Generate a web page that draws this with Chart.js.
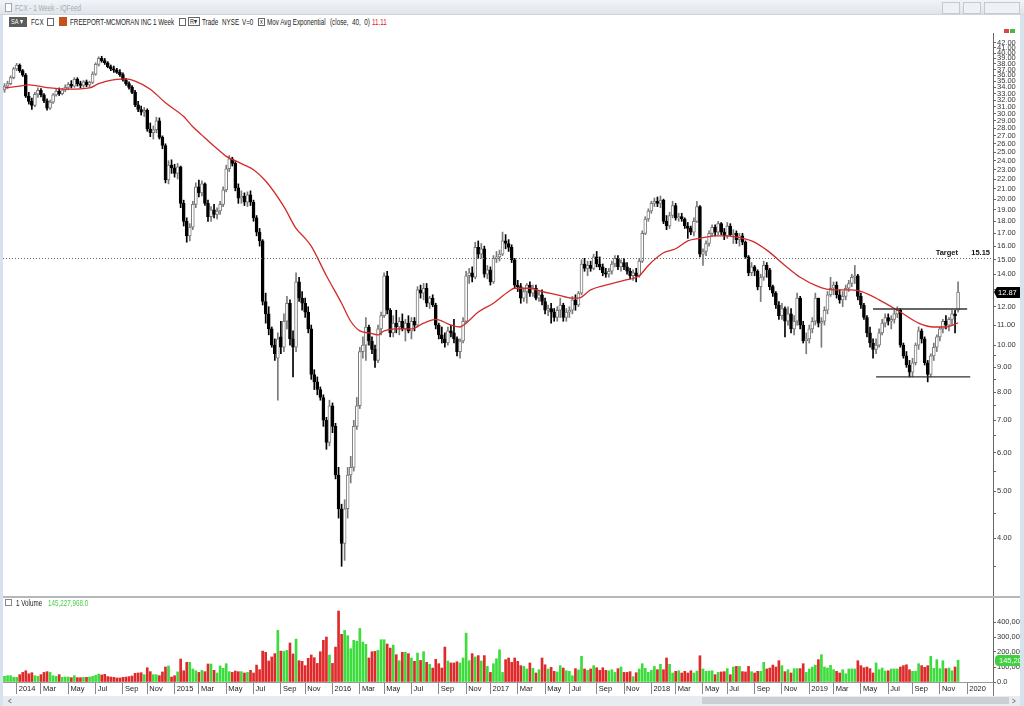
<!DOCTYPE html>
<html>
<head>
<meta charset="utf-8">
<script src="https://cdn.jsdelivr.net/npm/chart.js@4.4.0/dist/chart.umd.min.js"></script>
<style>
  html, body { margin: 0; padding: 0; background: #fff; }
  body { width: 1024px; height: 706px; position: relative; overflow: hidden; font-family: "Liberation Sans", Arial, sans-serif; }
  .abs { position: absolute; }
  .t { position: absolute; font-size: 8.5px; line-height: 10px; white-space: nowrap; color: #222; transform: scaleX(0.74); transform-origin: 0 0; }
  .box { position: absolute; border: 1px solid #666; background: #fff; box-sizing: border-box; }
  canvas { position: absolute; left: 0; }
</style>
</head>
<body>
<!-- window chrome -->
<div class="abs" style="left:0;top:0;width:1024px;height:14px;background:linear-gradient(#f1f4f8,#e0e5eb);border-bottom:1px solid #cdd5de"></div>
<div class="abs" style="left:5px;top:3px;width:5px;height:7px;border:1px solid #a0a8b0;background:#fff"></div>
<div class="t" style="left:15px;top:3px;color:#a3abb4">FCX - 1 Week - IQFeed</div>
<div class="abs" style="left:942px;top:2px;width:16px;height:10px;border:1px solid #c3cad2;background:#eef1f5"></div>
<div class="abs" style="left:963px;top:2px;width:16px;height:10px;border:1px solid #c3cad2;background:#eef1f5"></div>
<div class="abs" style="left:984px;top:2px;width:34px;height:10px;border:1px solid #c3cad2;background:#eef1f5"></div>
<div class="abs" style="left:0;top:15px;width:3px;height:691px;background:#d6e2ee"></div>
<div class="abs" style="left:1020px;top:15px;width:4px;height:691px;background:#d6e2ee"></div>

<!-- toolbar -->
<div class="abs" style="left:9px;top:17px;width:18px;height:10px;background:#5b5b5b"></div>
<div class="t" style="left:11px;top:17px;color:#fff;font-size:7.5px">SA ▾</div>
<div class="t" style="left:31px;top:17px">FCX</div>
<div class="box" style="left:47px;top:18px;width:7px;height:8px"></div>
<div class="abs" style="left:59px;top:17px;width:8px;height:9px;background:#c4521c"></div>
<div class="t" style="left:70px;top:17px">FREEPORT-MCMORAN INC</div>
<div class="t" style="left:153px;top:17px">1 Week</div>
<div class="box" style="left:179px;top:18px;width:7px;height:8px"></div>
<div class="box" style="left:188px;top:17px;width:12px;height:9px"></div>
<div class="t" style="left:190px;top:17px;font-size:7.5px">R▾</div>
<div class="t" style="left:202px;top:17px">Trade</div>
<div class="t" style="left:222px;top:17px">NYSE</div>
<div class="t" style="left:242px;top:17px">V=0</div>
<div class="box" style="left:258px;top:18px;width:7px;height:8px"></div>
<div class="t" style="left:259.5px;top:17px;font-size:7.5px">x</div>
<div class="t" style="left:267px;top:17px">Mov Avg Exponential</div>
<div class="t" style="left:330px;top:17px">(close,&nbsp; 40,&nbsp; 0)</div>
<div class="t" style="left:372px;top:17px;color:#d22">11.11</div>
<div class="abs" style="left:1004px;top:29px;width:5px;height:4px;background:#d44"></div>
<div class="abs" style="left:1010px;top:29px;width:5px;height:4px;background:#4b4"></div>

<canvas id="priceChart" width="1020" height="579" style="top:25px"></canvas>
<canvas id="volumeChart" width="1020" height="104" style="top:592px"></canvas>

<!-- panel separator and volume header -->
<div class="abs" style="left:3px;top:596px;width:1017px;height:2px;background:#b4b8bd"></div>
<div class="box" style="left:5px;top:599px;width:7px;height:7px;border-color:#888"></div>
<div class="t" style="left:16px;top:598px;font-size:8.5px">1 Volume</div>
<div class="t" style="left:48px;top:598px;font-size:8.5px;color:#49d049">145,227,968.0</div>
<div class="abs" style="left:993px;top:682px;width:1px;height:14px;background:#777"></div>

<!-- scrollbar -->
<div class="abs" style="left:3px;top:696px;width:1017px;height:10px;background:#e8ebef"></div>
<div class="abs" style="left:702px;top:697px;width:307px;height:7px;background:#cbcfd4"></div>
<div class="t" style="left:8px;top:696px;color:#555">&lt;</div>
<div class="t" style="left:1012px;top:696px;color:#555">&gt;</div>

<script>
// weekly bars, first week starting Monday 2 Dec 2013
const MONTHS = ["Jan", "Feb", "Mar", "Apr", "May", "Jun", "Jul", "Aug", "Sep", "Oct", "Nov", "Dec"];
const WEEK_SLOTS = 326; // plotted weeks plus the empty space on the right

const open = [
  33.6,34.2,34.6,35.6,37.1,37.8,36.8,36.0,32.6,31.8, 31.2,32.9,33.5,32.8,31.9,30.8,31.7,32.8,33.4,33.0,
  33.6,34.0,34.5,34.2,35.3,34.6,34.3,34.9,34.4,34.8, 36.2,37.9,39.0,38.6,38.2,37.5,37.1,36.9,36.5,36.1,
  35.2,34.6,34.0,33.2,31.3,30.6,30.2,30.5,27.9,27.4, 27.8,29.0,26.8,25.8,21.9,23.5,23.2,22.6,23.3,19.6,
  18.0,16.8,17.5,19.5,21.2,20.6,21.5,19.6,18.4,19.0, 18.6,18.9,19.5,20.9,23.1,24.2,23.7,21.1,20.1,20.3,
  19.7,20.4,19.7,18.3,17.1,16.4,12.3,11.6,10.8,10.0, 9.4,10.4,9.9,11.2,12.2,10.3,9.9,13.5,12.5,12.2,
  11.7,10.8,8.7,8.4,8.1,7.8,7.0,6.3,7.5,6.8, 5.4,4.6,3.9,4.6,5.4,5.6,6.8,7.5,9.7,10.0,
  10.9,10.2,9.8,9.3,10.8,11.5,13.9,11.8,10.6,11.1, 10.9,11.2,10.8,11.1,10.7,11.2,11.0,13.0,12.8,13.1,
  12.2,12.5,12.1,11.0,10.5,10.3,10.1,10.7,10.6,10.3, 9.7,10.2,11.2,13.9,14.1,13.8,15.9,15.4,15.8,14.0,
  14.3,13.5,15.1,15.2,15.4,16.4,16.2,15.9,15.0,13.3, 13.2,12.5,12.9,13.3,12.8,13.1,12.5,12.7,12.3,11.8,
  11.9,11.7,11.4,11.8,12.1,11.4,11.7,11.8,12.4,12.1, 12.8,14.7,14.4,14.6,14.4,15.2,14.7,14.5,14.1,14.0,
  14.2,14.7,15.1,14.5,14.8,14.5,14.2,13.9,14.1,13.9, 14.9,17.0,18.2,18.9,19.6,19.8,19.6,19.9,18.0,17.6,
  18.5,19.4,18.3,18.4,18.2,17.6,17.4,17.1,18.0,19.3, 15.4,15.6,16.2,17.0,17.5,17.1,17.8,17.1,16.8,17.6,
  16.9,17.0,16.5,16.8,16.3,15.2,14.1,14.5,14.2,13.2, 13.8,14.6,14.3,13.2,12.8,12.1,11.5,11.9,11.2,11.6,
  10.8,11.2,12.5,11.0,10.2,10.3,10.8,11.2,12.5,11.1, 11.2,11.8,12.7,13.1,13.3,12.7,12.4,12.6,13.1,13.4,
  13.8,13.9,12.6,12.1,11.4,10.6,10.1,9.8,10.0,10.6, 11.1,11.4,11.2,11.3,11.6,11.8,10.0,9.5,9.1,8.8,
  9.2,10.0,10.7,10.3,9.2,8.7,9.5,9.9,10.4,10.8, 11.2,11.0,11.3,11.6,11.8
];
const high = [
  34.6,35.0,35.9,37.4,38.1,38.0,37.0,36.3,33.2,32.3, 33.2,33.9,33.8,33.0,32.2,32.0,33.0,33.8,33.9,33.8,
  34.4,34.8,35.1,35.6,35.6,35.0,35.1,35.2,35.0,36.6, 38.2,39.3,39.4,39.0,38.4,37.8,37.6,37.2,37.0,36.4,
  35.5,34.9,34.3,33.5,31.8,31.1,30.9,30.7,28.7,28.3, 29.5,29.4,27.0,26.0,24.0,24.1,23.6,23.7,23.4,19.9,
  18.3,17.8,19.8,21.6,21.9,21.8,21.6,19.9,19.3,19.5, 19.2,19.8,21.2,23.5,24.6,24.4,23.9,21.5,20.8,20.6,
  20.7,20.8,19.9,18.5,17.4,16.5,12.8,12.0,10.9,10.3, 10.6,11.2,11.6,12.6,12.4,10.7,14.1,13.8,12.9,12.5,
  12.0,11.0,8.9,8.6,8.2,7.9,7.1,7.7,7.6,6.9, 5.6,4.7,4.8,5.6,5.9,7.0,7.8,9.9,10.4,11.4,
  11.0,10.4,10.0,11.0,11.7,14.1,14.2,11.9,11.5,11.8, 11.4,11.6,11.3,11.5,11.4,11.4,13.2,13.3,13.4,13.4,
  12.6,12.7,12.2,11.1,10.9,10.6,10.9,11.0,11.3,10.4, 10.3,11.4,14.2,14.4,14.5,16.3,16.4,16.2,16.0,14.6,
  14.5,15.3,15.6,15.7,17.1,16.9,16.5,16.1,15.1,13.6, 13.4,13.1,13.4,13.5,13.3,13.3,12.9,13.0,12.5,12.1,
  12.2,11.9,12.0,12.5,12.2,11.9,12.0,12.6,12.7,12.9, 15.0,15.1,14.9,14.9,15.4,15.6,15.2,14.7,14.4,14.4,
  14.9,15.3,15.3,15.0,15.1,14.8,14.4,14.3,14.4,15.1, 17.2,18.4,19.1,19.8,20.1,20.2,20.3,20.0,18.5,18.8,
  19.8,19.6,18.7,18.7,18.3,17.9,17.6,18.3,19.8,19.4, 15.8,16.4,17.2,17.7,17.7,18.0,17.9,17.4,17.9,17.8,
  17.3,17.2,17.0,17.0,16.4,15.3,14.8,14.6,14.3,14.0, 14.9,14.8,14.4,13.3,12.9,12.3,12.2,12.0,12.0,11.9,
  11.5,12.8,12.6,11.2,10.6,11.0,11.4,12.8,12.5,11.4, 12.0,12.9,13.8,13.5,13.5,13.0,12.9,13.3,13.6,14.0,
  14.6,14.0,12.8,12.2,11.5,10.9,10.3,10.3,10.8,11.3, 11.6,11.6,11.5,11.8,12.0,11.9,10.1,9.7,9.3,9.4,
  10.1,10.9,10.8,10.4,9.3,9.6,10.1,10.5,10.9,11.3, 11.5,11.4,11.8,11.8,13.5
];
const low = [
  33.2,33.8,34.4,35.4,36.8,36.5,35.8,32.4,31.4,30.6, 31.0,32.4,32.5,31.6,30.5,30.6,31.5,32.6,32.7,32.8,
  33.3,33.6,33.9,34.0,34.2,33.9,34.0,34.1,34.0,34.6, 36.0,37.6,38.3,37.9,37.3,36.8,36.5,36.3,35.8,35.0,
  34.3,33.7,33.0,31.0,30.3,29.8,29.6,27.6,26.9,26.6, 27.4,26.6,25.4,21.6,21.5,22.6,22.2,22.0,19.2,17.6,
  16.3,16.4,17.3,19.2,20.2,20.3,19.4,18.0,18.0,18.3, 18.2,18.6,19.3,20.7,22.8,23.4,20.8,19.6,19.6,19.4,
  19.3,19.4,18.0,16.8,16.0,12.1,11.1,10.5,9.9,9.3, 7.7,9.6,9.7,10.8,10.0,8.6,9.7,12.3,11.8,11.4,
  10.6,8.5,8.1,7.9,7.7,6.8,6.1,6.2,6.6,5.3, 4.4,3.5,3.6,4.4,5.2,5.5,6.7,7.4,9.4,9.3,
  10.0,9.6,9.0,9.2,10.5,11.4,11.6,10.4,10.4,10.6, 10.5,10.7,10.2,10.6,10.3,10.7,10.9,12.5,12.4,12.0,
  11.9,12.0,10.8,10.3,10.1,9.9,10.0,10.4,10.1,9.5, 9.4,10.1,11.1,13.4,13.5,13.7,15.1,15.1,13.8,13.7,
  13.3,13.4,14.8,14.9,15.3,15.8,15.6,14.8,13.1,12.9, 12.2,12.3,12.2,12.6,12.6,12.4,12.3,12.1,11.6,11.5,
  11.1,11.2,11.2,11.4,11.2,11.2,11.4,11.6,11.8,12.0, 12.7,14.2,13.9,14.2,14.3,14.5,14.3,13.9,13.8,13.8,
  14.0,14.5,14.3,14.2,14.3,14.0,13.7,13.6,13.5,13.8, 14.8,16.9,18.0,18.7,19.3,19.3,19.2,17.8,17.3,17.4,
  18.3,18.1,18.0,18.0,17.4,16.6,16.9,16.8,17.9,15.2, 14.6,15.3,16.0,16.8,16.8,16.9,16.9,16.5,16.6,16.8,
  16.2,16.2,16.0,16.1,15.1,13.9,13.9,13.9,13.0,12.3, 13.6,13.8,13.0,12.6,11.9,11.3,11.3,10.4,11.0,10.6,
  10.5,11.0,10.8,10.1,9.6,10.1,10.6,11.0,10.9,9.9, 11.0,11.6,12.6,12.7,12.5,12.2,12.0,12.4,12.9,13.2,
  13.4,12.4,11.9,11.3,10.4,9.9,9.4,9.6,9.9,10.5, 10.9,11.0,10.8,11.1,11.4,9.9,9.4,9.0,8.6,8.6,
  9.1,9.8,10.1,9.1,8.4,8.6,9.3,9.7,10.2,10.6, 10.8,10.7,11.0,10.6,11.7
];
const close = [
  34.2,34.6,35.6,37.1,37.8,36.8,36.0,32.6,31.8,31.2, 32.9,33.5,32.8,31.9,30.8,31.7,32.8,33.4,33.0,33.6,
  34.0,34.5,34.2,35.3,34.6,34.3,34.9,34.4,34.8,36.2, 37.9,39.0,38.6,38.2,37.5,37.1,36.9,36.5,36.1,35.2,
  34.6,34.0,33.2,31.3,30.6,30.2,30.5,27.9,27.4,27.8, 29.0,26.8,25.8,21.9,23.5,23.2,22.6,23.3,19.6,18.0,
  16.8,17.5,19.5,21.2,20.6,21.5,19.6,18.4,19.0,18.6, 18.9,19.5,20.9,23.1,24.2,23.7,21.1,20.1,20.3,19.7,
  20.4,19.7,18.3,17.1,16.4,12.3,11.6,10.8,10.0,9.6, 10.3,9.9,11.2,12.2,10.3,9.9,13.5,12.5,12.2,11.7,
  10.8,8.7,8.4,8.1,7.8,7.0,6.3,7.5,6.8,5.4, 4.6,3.9,4.6,5.4,5.6,6.8,7.5,9.7,10.0,10.9,
  10.2,9.8,9.3,10.8,11.5,13.9,11.8,10.6,11.1,10.9, 11.2,10.8,11.1,10.7,11.2,11.0,13.0,12.8,13.1,12.2,
  12.5,12.1,11.0,10.5,10.3,10.1,10.7,10.6,10.3,9.7, 10.2,11.2,13.9,14.1,13.8,15.9,15.4,15.8,14.0,14.3,
  13.5,15.1,15.2,15.4,16.4,16.2,15.9,15.0,13.3,13.2, 12.5,12.9,13.3,12.8,13.1,12.5,12.7,12.3,11.8,11.9,
  11.7,11.4,11.8,12.1,11.4,11.7,11.8,12.4,12.1,12.8, 14.7,14.4,14.6,14.4,15.2,14.7,14.5,14.1,14.0,14.2,
  14.7,15.1,14.5,14.8,14.5,14.2,13.9,14.1,13.9,14.9, 17.0,18.2,18.9,19.6,19.8,19.6,19.9,18.0,17.6,18.5,
  19.4,18.3,18.4,18.2,17.6,17.4,17.1,18.0,19.3,15.4, 15.6,16.2,17.0,17.5,17.1,17.8,17.1,16.8,17.6,16.9,
  17.0,16.5,16.8,16.3,15.2,14.1,14.5,14.2,13.2,13.8, 14.6,14.3,13.2,12.8,12.1,11.5,11.9,11.2,11.6,10.8,
  11.2,12.5,11.0,10.2,10.3,10.8,11.2,12.5,11.1,11.2, 11.8,12.7,13.1,13.3,12.7,12.4,12.6,13.1,13.4,13.8,
  13.9,12.6,12.1,11.4,10.6,10.1,9.8,10.0,10.6,11.1, 11.4,11.2,11.3,11.6,11.8,10.0,9.5,9.1,8.8,9.2,
  10.0,10.7,10.3,9.2,8.7,9.5,9.9,10.4,10.8,11.2, 11.0,11.3,11.6,11.5,12.87
];
// weekly volume, thousands of the axis unit
const volume = [
  38,42,42,31,31,49,64,75,55,62, 42,38,49,64,69,64,42,38,49,31,
  33,33,29,42,29,29,31,31,33,38, 44,53,47,51,36,33,31,27,27,31,
  33,36,40,58,60,62,49,95,69,49, 49,42,67,100,107,33,42,67,153,75,
  131,131,87,75,64,78,69,120,120,78, 60,107,91,122,69,64,73,69,69,60,
  64,78,60,113,82,206,198,140,167,189, 344,206,204,211,260,187,286,142,138,109,
  158,180,162,124,202,278,300,180,124,233, 473,318,344,309,222,278,271,357,266,251,
  160,202,204,211,282,282,253,226,246,182, 142,198,198,189,160,138,193,144,202,131,
  118,93,151,122,93,233,140,127,127,135, 127,160,326,142,189,167,176,140,176,104,
  64,122,155,215,64,149,160,131,160,138, 109,104,87,127,91,60,82,160,115,87,
  98,71,67,109,93,75,71,42,89,80, 171,87,78,87,109,95,78,95,78,75,
  82,64,89,100,64,64,69,36,62,87, 122,91,64,78,104,82,118,82,160,118,
  60,71,75,60,71,60,75,60,73,175, 87,71,73,75,49,64,67,69,89,49,
  100,104,104,69,67,104,69,60,71,71, 131,87,93,113,100,142,109,69,82,60,
  89,89,89,122,64,87,100,113,149,182, 100,93,111,82,71,60,82,55,87,87,
  87,142,109,95,100,89,60,127,82,93, 73,75,87,87,87,100,109,115,82,71,
  71,122,109,98,109,171,91,149,89,142, 89,93,75,100,145.2
];

// 40-week exponential average at these weeks
const emaWeek = [0,5,8,15,21,28,31,37,40,43,48,53,59,62,65,70,73,76,79,82,86,92,96,99,101,106,111,114,117,120,
  123,125,129,134,138,142,147,150,152,156,161,166,168,173,177,182,187,189,193,198,204,209,212,217,221,225,229,
  234,237,241,246,251,257,262,268,273,279,282,288,295,301,306,310,314];
const emaValue = [33.9,34.2,34.4,33.9,33.7,33.9,34.6,35.3,35.4,35.0,33.7,31.6,29.6,28.2,27.1,25.4,24.5,24.0,23.5,23.0,
  21.8,19.3,17.4,16.6,16.0,13.9,12.2,11.2,10.7,10.6,10.5,10.7,10.8,10.8,11.1,11.3,11.0,10.9,11.1,11.7,12.2,12.9,
  13.1,13.1,12.9,12.7,12.5,12.5,13.0,13.3,13.6,13.9,14.6,15.5,15.8,16.4,16.6,16.8,16.8,16.7,16.4,15.7,14.6,13.8,
  13.2,13.0,13.0,12.9,12.4,11.7,11.1,10.9,10.9,11.11];

// drawn horizontal levels (resistance, support)
const levelPrice = [11.87, 8.6];
const levelFrom = [286, 287];
const levelTo = [317, 318];
const TARGET_PRICE = 15.15;

const priceTicks = [4,5,6,7,8,9,10,11,12,13,14,15,16,17,18,19,20,21,22,23,24,25,26,27,28,29,30,31,32,33,34,35,36,37,38,39,40,41,42];
const priceMinorTicks = [3.5,4.5,5.5,6.5,7.5,8.5,9.5];
const volumeTicks = [0, 100, 200, 300, 400];

const FONT = '"Liberation Sans", Arial, sans-serif';
Chart.defaults.font.family = FONT;
Chart.defaults.color = "#333";

const weeks = [];
for (let k = 0; k < WEEK_SLOTS; k++) weeks.push(new Date(2013, 11, 2 + 7 * k));
const labels = weeks.map(d => d.getFullYear() + "-" + String(d.getMonth() + 1).padStart(2, "0") + "-" + String(d.getDate()).padStart(2, "0"));

// month label for the week holding the 1st of Jan/Mar/May/Jul/Sep/Nov
function axisLabel(i) {
    if (i > WEEK_SLOTS - 5) return null; // no room for a label at the right edge
    const d = weeks[i];
    for (let k = 0; k < 7; k++) {
        const t = new Date(d.getFullYear(), d.getMonth(), d.getDate() + k);
        if (t.getDate() === 1 && t.getMonth() % 2 === 0) {
            return " " + (t.getMonth() === 0 ? String(t.getFullYear()) : MONTHS[t.getMonth()]);
        }
    }
    return null;
}

const up = close.map((c, i) => c >= open[i]);
const wickData = low.map((l, i) => [l, high[i]]);
const bodyData = open.map((o, i) => [o, close[i]]);

const emaLine = new Array(WEEK_SLOTS).fill(null);
emaWeek.forEach((w, k) => { emaLine[w] = emaValue[k]; });

function levelLine(k) {
    const a = new Array(WEEK_SLOTS).fill(null);
    a[levelFrom[k]] = levelPrice[k];
    a[levelTo[k]] = levelPrice[k];
    return a;
}

// target line, target text and last price flag
const priceOverlay = {
    id: "priceOverlay",
    afterDraw(chart) {
        const { ctx, chartArea, scales: { y } } = chart;
        const ty = Math.round(y.getPixelForValue(TARGET_PRICE)) + 0.5;
        ctx.save();
        ctx.strokeStyle = "#666";
        ctx.lineWidth = 1;
        ctx.setLineDash([1, 2]);
        ctx.beginPath();
        ctx.moveTo(chartArea.left, ty);
        ctx.lineTo(chartArea.right, ty);
        ctx.stroke();
        ctx.setLineDash([]);
        ctx.fillStyle = "#111";
        ctx.font = "bold 7.5px " + FONT;
        ctx.textAlign = "right";
        ctx.textBaseline = "bottom";
        ctx.fillText("Target", chartArea.right - 35, ty - 2);
        ctx.fillText(TARGET_PRICE.toFixed(2), chartArea.right - 3, ty - 2);

        const last = close[close.length - 1];
        const ly = Math.round(y.getPixelForValue(last));
        ctx.fillStyle = "#000";
        ctx.beginPath();
        ctx.moveTo(chartArea.right + 1, ly);
        ctx.lineTo(chartArea.right + 4, ly - 5);
        ctx.lineTo(chartArea.right + 27, ly - 5);
        ctx.lineTo(chartArea.right + 27, ly + 6);
        ctx.lineTo(chartArea.right + 4, ly + 6);
        ctx.closePath();
        ctx.fill();
        ctx.fillStyle = "#fff";
        ctx.font = "7.5px " + FONT;
        ctx.textAlign = "left";
        ctx.textBaseline = "middle";
        ctx.fillText(last.toFixed(2), chartArea.right + 5, ly + 1);
        ctx.restore();
    }
};

const volumeOverlay = {
    id: "volumeOverlay",
    afterDraw(chart) {
        const { ctx, chartArea, scales: { y } } = chart;
        const v = volume[volume.length - 1];
        const vy = Math.round(y.getPixelForValue(v));
        ctx.save();
        ctx.fillStyle = "#3fcf3f";
        ctx.beginPath();
        ctx.roundRect(chartArea.right + 2, vy - 5, 27, 11, 4);
        ctx.fill();
        ctx.fillStyle = "#fff";
        ctx.font = "7.5px " + FONT;
        ctx.textBaseline = "middle";
        ctx.fillText((v * 1000).toLocaleString("en-US"), chartArea.right + 6, vy + 1);
        ctx.restore();
    }
};

new Chart(document.getElementById("priceChart"), {
    type: "bar",
    data: {
        labels: labels,
        datasets: [
            {
                label: "wick", data: wickData, order: 4, grouped: false, barThickness: 1,
                backgroundColor: up.map(u => u ? "#7a7a7a" : "#000")
            },
            {
                label: "body", data: bodyData, order: 3, grouped: false, barThickness: 3, minBarLength: 1,
                backgroundColor: up.map(u => u ? "#fff" : "#000"),
                borderColor: up.map(u => u ? "#7a7a7a" : "#000"),
                borderWidth: 1, borderSkipped: false
            },
            {
                type: "line", label: "EMA 40", data: emaLine, order: 2, spanGaps: true,
                borderColor: "#d42a2a", borderWidth: 1.3, pointRadius: 0, cubicInterpolationMode: "monotone"
            },
            {
                type: "line", label: "resistance", data: levelLine(0), order: 1, spanGaps: true,
                borderColor: "#333", borderWidth: 1.4, pointRadius: 0
            },
            {
                type: "line", label: "support", data: levelLine(1), order: 1, spanGaps: true,
                borderColor: "#333", borderWidth: 1.4, pointRadius: 0
            }
        ]
    },
    options: {
        responsive: false,
        animation: false,
        events: [],
        layout: { padding: { left: 3, right: 0, top: 8, bottom: 8 } },
        plugins: { legend: { display: false }, tooltip: { enabled: false } },
        scales: {
            x: { type: "category", display: false, offset: true },
            y: {
                type: "logarithmic",
                position: "right",
                min: 3.04,
                max: 44,
                afterBuildTicks: scale => {
                    scale.ticks = priceMinorTicks.concat(priceTicks).sort((a, b) => a - b).map(v => ({ value: v }));
                },
                afterFit: scale => { scale.width = 27; },
                border: { display: true, color: "#666" },
                grid: { drawOnChartArea: false, drawTicks: true, tickLength: 3, color: "#666" },
                ticks: {
                    autoSkip: false,
                    padding: 1,
                    color: "#333",
                    font: { size: 7.5 },
                    callback: v => Number.isInteger(v) ? v.toFixed(2) : ""
                }
            }
        }
    },
    plugins: [priceOverlay]
});

new Chart(document.getElementById("volumeChart"), {
    type: "bar",
    data: {
        labels: labels,
        datasets: [{
            label: "Volume",
            data: volume,
            barThickness: 2,
            backgroundColor: up.map(u => u ? "#3ddc3d" : "#de2a2a")
        }]
    },
    options: {
        responsive: false,
        animation: false,
        events: [],
        layout: { padding: { left: 3, right: 0, top: 6, bottom: 0 } },
        plugins: { legend: { display: false }, tooltip: { enabled: false } },
        scales: {
            x: {
                type: "category",
                offset: true,
                afterFit: scale => { scale.height = 14; },
                border: { display: true, color: "#999" },
                grid: { offset: false, drawOnChartArea: false, drawTicks: true, tickLength: 12, color: "#888" },
                ticks: {
                    autoSkip: false,
                    maxRotation: 0,
                    minRotation: 0,
                    align: "start",
                    padding: -10,
                    color: "#222",
                    font: { size: 7.5 },
                    callback: (value, index) => axisLabel(index)
                }
            },
            y: {
                position: "right",
                min: 0,
                max: 560,
                afterBuildTicks: scale => { scale.ticks = volumeTicks.map(v => ({ value: v })); },
                afterFit: scale => { scale.width = 27; },
                border: { display: true, color: "#666" },
                grid: { drawOnChartArea: false, drawTicks: true, tickLength: 3, color: "#666" },
                ticks: {
                    padding: 1,
                    color: "#333",
                    font: { size: 7.5 },
                    callback: v => v === 0 ? "0.0" : (v * 1000).toLocaleString("en-US")
                }
            }
        }
    },
    plugins: [volumeOverlay]
});
</script>
</body>
</html>
